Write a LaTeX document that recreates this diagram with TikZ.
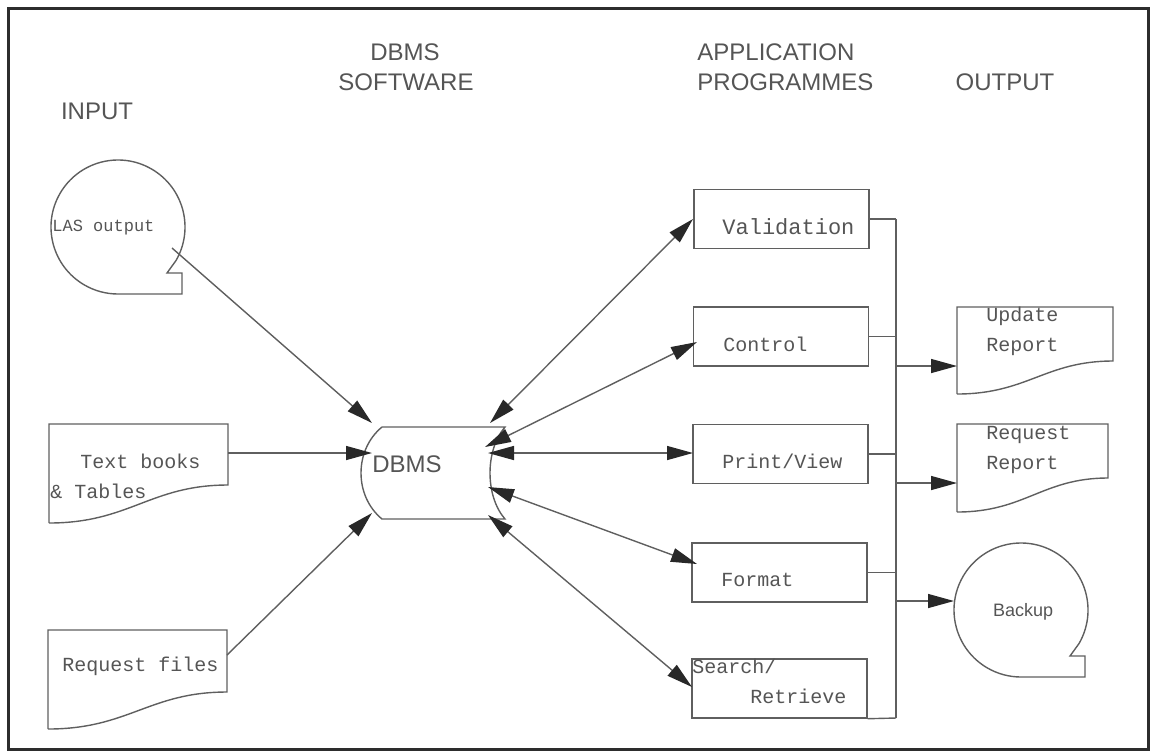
\documentclass[tikz,border=0pt]{standalone}
\usepackage{fontspec}
\setmainfont{Liberation Sans}
\newfontfamily\plotmono{Liberation Mono}
\usetikzlibrary{arrows.meta}

\definecolor{inkline}{RGB}{95,95,95}
\definecolor{inktext}{RGB}{85,85,85}
\definecolor{inkhead}{RGB}{40,40,40}
\definecolor{inkframe}{RGB}{45,45,45}

% page-like drawing grid: one unit = one dot, y grows downwards
\tikzset{
  >={Triangle[length=13pt,width=7pt,color=inkhead,fill=inkhead]},
  ln/.style={draw=inkline, line width=0.7pt},
  flow/.style={ln, ->},
  both/.style={ln, <->},
  hdr/.style={text=inktext, font=\fontsize{12}{14}\selectfont, inner sep=0pt,
              text height=0.72em, text depth=0pt},
  lbl/.style={text=inktext, font=\plotmono\fontsize{10}{12}\selectfont, inner sep=0pt,
              anchor=west, text height=0.69em, text depth=0pt},
  prog/.style={ln, rectangle, minimum width=87.5pt, minimum height=29.5pt, inner sep=0pt},
}

% document symbol: left, top, right, right-bottom, left-bottom
\newcommand\docpath[5]{%
  \draw[ln] (#1,#5) -- (#1,#2) -- (#3,#2) -- (#3,#4)
    .. controls ({#1+0.565*(#3-#1)},#4) and ({#1+0.45*(#3-#1)},#5) .. (#1,#5);}
% magnetic tape symbol: centre x, centre y, radius
\newcommand\tapepath[3]{%
  \draw[ln] ({#1+#3*cos(30)},{#2+#3*sin(30)})
    arc[start angle=30, end angle=-270, radius=#3]
    -- ({#1+64},{#2+#3}) -- ({#1+64},{#2+46}) -- ({#1+49},{#2+46}) -- cycle;}

\begin{document}
\begin{tikzpicture}[x=0.5pt, y=-0.5pt]
\useasboundingbox (0,0) rectangle (1154,751);
\draw[inkframe, line width=1.5pt] (8,8) rectangle (1148,749);

% column headings
\node[hdr] (hIn) at (97,112) {INPUT};
\node[hdr] (hDb1) at (405,53) {DBMS};
\node[hdr] (hDb2) at (406,83) {SOFTWARE};
\node[hdr, anchor=west] (hAp1) at (697,53) {APPLICATION};
\node[hdr, anchor=west] (hAp2) at (697,83) {PROGRAMMES};
\node[hdr] (hOut) at (1005,83) {OUTPUT};

% ---- inputs ----
\tapepath{118}{227}{67}
\node[lbl, font=\plotmono\fontsize{8.5}{10}\selectfont] (las) at (52,225) {LAS output};
\coordinate (lasOut) at (172,248);

\docpath{49}{424}{228}{485}{523}
\node[lbl] (tb1) at (80,462) {Text books};
\node[lbl] (tb2) at (50,492) {\& Tables};
\coordinate (tbOut) at (228,453);

\docpath{48}{630}{227}{692}{729}
\node[lbl] (rf) at (62,665) {Request files};
\coordinate (rfOut) at (227,655);

% ---- stored database ----
\draw[ln] (382,427) -- (505,427)
  .. controls (485,450) and (485,496) .. (505,519) -- (382,519)
  .. controls (354,496) and (354,450) .. (382,427);
\node[hdr, anchor=west] (dbms) at (372,465) {DBMS};
\coordinate (dbLas) at (372,423);
\coordinate (dbTb) at (372,453);
\coordinate (dbRf) at (372,513);
\coordinate (dbVal) at (490,423);
\coordinate (dbCtl) at (485,447);
\coordinate (dbPrt) at (488,453);
\coordinate (dbFmt) at (488,487);
\coordinate (dbSrch) at (488,515);

\draw[flow] (lasOut) -- (dbLas);
\draw[flow] (tbOut) -- (dbTb);
\draw[flow] (rfOut) -- (dbRf);

% ---- application programmes ----
\node[prog] (val) at (781.5,219) {};
\node[prog] (ctl) at (781,336.5) {};
\node[prog] (prt) at (780.5,454) {};
\node[prog] (fmt) at (779.5,572.5) {};
\node[prog] (srch) at (779.5,688.5) {};

\node[lbl, font=\plotmono\fontsize{11}{13}\selectfont] (valT) at (722,228) {Validation};
\node[lbl] (ctlT) at (723,345) {Control};
\node[lbl] (prtT) at (722,462) {Print/View};
\node[lbl] (fmtT) at (721,580) {Format};
\node[lbl] (srT1) at (692,667) {Search/};
\node[lbl] (srT2) at (750,697) {Retrieve};

\coordinate (valIn) at (693,219);
\coordinate (ctlIn) at (697,342);
\coordinate (prtIn) at (693,453);
\coordinate (fmtIn) at (697,564);
\coordinate (srchIn) at (692,687);

\draw[both] (dbVal) -- (valIn);
\draw[both] (dbCtl) -- (ctlIn);
\draw[both] (dbPrt) -- (prtIn);
\draw[both] (dbFmt) -- (fmtIn);
\draw[both] (dbSrch) -- (srchIn);

% collecting bus
\coordinate (busT) at (896,219);
\coordinate (busB) at (896,718);
\draw[ln] (busT) -- (busB);
\draw[ln] (val.east) -- (val.east -| busT);
\draw[ln] (ctl.east) -- (ctl.east -| busT);
\draw[ln] (prt.east) -- (prt.east -| busT);
\draw[ln] (fmt.east) -- (fmt.east -| busT);
\draw[ln] (srch.south east) -- (busB);

% ---- outputs ----
\docpath{957}{307}{1113}{361}{394}
\node[lbl] (upd1) at (986,315) {Update};
\node[lbl] (upd2) at (986,345) {Report};
\coordinate (updIn) at (957,366);

\docpath{957}{424}{1108}{478}{512}
\node[lbl] (req1) at (986,433) {Request};
\node[lbl] (req2) at (986,463) {Report};
\coordinate (reqIn) at (957,483);

\tapepath{1021}{610}{67}
\node[hdr, font=\fontsize{9}{11}\selectfont] (bak) at (1023,609) {Backup};
\coordinate (bakIn) at (954,601);

\coordinate (busUpd) at (896,366);
\coordinate (busReq) at (896,483);
\coordinate (busBak) at (896,601);
\draw[flow] (busUpd) -- (updIn);
\draw[flow] (busReq) -- (reqIn);
\draw[flow] (busBak) -- (bakIn);
\end{tikzpicture}
\end{document}
